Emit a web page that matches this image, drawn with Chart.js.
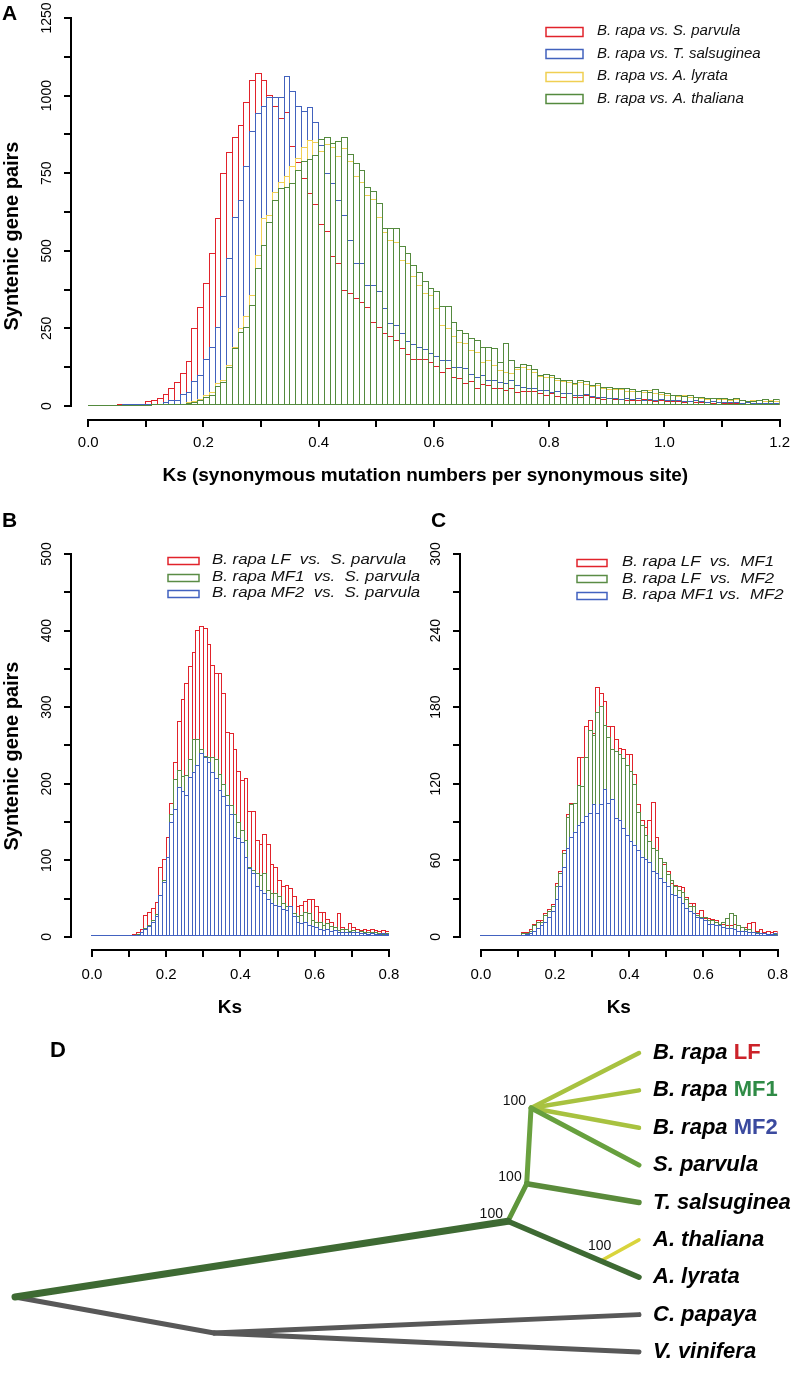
<!DOCTYPE html>
<html>
<head>
<meta charset="utf-8">
<title>Ks distributions of syntenic gene pairs</title>
<script src="https://cdn.jsdelivr.net/npm/chart.js@4.4.1/dist/chart.umd.min.js"></script>
<style>
  body { margin: 0; background: #fff; }
  #page { position: relative; width: 797px; height: 1378px; overflow: hidden; background: #fff; }
  #page canvas { position: absolute; }
</style>
</head>
<body>
<div id="page">
  <canvas id="chartA" width="797" height="500" style="left:0px;top:0px"></canvas>
  <canvas id="chartB" width="430" height="520" style="left:0px;top:500px"></canvas>
  <canvas id="chartC" width="397" height="520" style="left:400px;top:500px"></canvas>
  <canvas id="chartD" width="797" height="358" style="left:0px;top:1020px"></canvas>
</div>
<script>
Chart.defaults.font.family = '"Liberation Sans", Arial, Helvetica, sans-serif';
Chart.defaults.color = '#000';

// histogram bins are 0.01 Ks wide, starting at 0
const binWidth = 0.01;

// panel A: B. rapa vs. four crucifers, Ks 0 - 1.2
const aParvula = [
  0,0,0,0,0,1,2,3,4,8,
  16,19,25,38,57,78,105,145,250,320,
  396,492,605,750,817,868,906,981,1051,1073,
  1049,1003,967,928,947,838,785,734,686,651,
  587,564,482,462,374,365,347,334,320,272,
  256,234,224,213,186,167,152,150,152,143,
  129,109,121,95,91,73,81,59,70,68,
  59,59,52,57,46,49,49,49,43,35,
  41,33,30,41,30,30,35,30,25,23,
  25,22,24,20,21,19,22,18,17,20,
  16,15,17,14,15,13,12,14,11,12,
  10,11,9,10,8,9,8,10,7,8
];
const aSalsuginea = [
  0,0,0,0,0,0,1,1,2,3,
  5,6,8,14,21,21,38,45,80,100,
  152,191,256,356,476,610,664,772,887,944,
  967,997,997,997,1062,1014,965,949,963,914,
  842,750,720,664,616,535,460,460,390,390,
  369,315,267,261,236,211,199,190,183,170,
  160,148,148,127,127,124,103,95,100,84,
  84,78,73,84,68,62,57,57,52,52,
  46,49,43,41,35,35,38,33,30,30,
  25,27,24,26,22,25,21,23,20,22,
  19,18,20,17,16,18,15,14,16,13,
  14,12,13,11,12,10,11,10,9,10
];
const aLyrata = [
  0,0,0,0,0,0,0,0,0,0,
  0,1,1,2,3,5,8,12,17,24,
  35,45,75,84,132,191,250,290,358,487,
  605,616,691,723,740,772,800,836,858,850,
  820,845,836,804,831,790,740,723,680,666,
  610,560,535,530,470,460,420,390,363,358,
  315,261,250,224,207,202,181,175,143,148,
  132,116,111,105,120,126,118,110,96,95,
  92,85,80,78,70,78,72,66,68,58,
  56,54,55,50,48,50,45,52,42,40,
  36,34,32,34,28,29,26,24,26,24,
  24,20,22,18,17,18,20,15,19,16
];
const aThaliana = [
  0,0,0,0,0,0,0,0,0,0,
  0,1,1,2,3,5,7,10,14,20,
  30,35,64,78,127,186,240,256,326,444,
  519,594,664,702,707,718,761,790,795,809,
  860,868,847,854,868,812,782,761,705,693,
  653,573,573,573,514,492,455,433,403,379,
  371,322,322,272,245,236,218,213,191,191,
  188,143,202,148,127,135,132,118,100,103,
  100,89,84,84,73,84,81,68,73,62,
  60,57,57,57,54,49,52,46,55,46,
  41,35,35,33,35,30,30,27,25,25,
  27,23,27,19,17,16,19,23,16,23
];

// panel B: the three B. rapa subgenomes vs. S. parvula, Ks 0 - 0.8
const bLF = [
  0,0,0,0,0,1,1,1,2,2,
  3,4,6,10,29,32,38,46,92,102,
  131,175,228,282,311,331,354,372,401,406,
  404,383,355,344,345,319,268,266,246,217,
  205,207,164,164,127,122,134,121,95,92,
  75,67,68,64,53,40,42,47,49,49,
  40,32,33,24,19,13,31,13,11,18,
  13,10,9,10,9,10,9,8,9,8
];
const bMF1 = [
  0,0,0,0,0,0,0,1,1,1,
  2,3,4,7,12,16,22,30,55,75,
  105,160,206,218,210,211,233,258,259,245,
  236,235,235,233,213,200,185,172,161,150,
  140,127,92,87,83,81,83,61,57,57,
  53,44,40,40,31,27,29,33,31,22,
  20,20,16,18,14,13,9,11,10,8,
  9,7,8,7,6,7,6,5,4,5
];
const bMF2 = [
  0,0,0,0,0,0,0,0,1,1,
  1,2,3,6,10,14,20,28,55,72,
  105,150,167,196,190,186,209,215,225,240,
  235,229,216,207,192,184,172,160,131,129,
  124,105,90,83,66,61,57,50,44,42,
  40,37,35,40,27,20,18,19,16,14,
  13,11,9,10,8,9,7,7,7,6,
  6,6,5,5,4,5,4,4,5,4
];

// panel C: subgenomes against each other, Ks 0 - 0.8
const cLFvsMF1 = [
  0,0,0,0,0,0,0,0,0,1,
  1,4,4,6,10,13,13,19,22,26,
  42,52,68,96,105,105,141,141,165,170,
  160,196,191,185,165,165,155,148,147,143,
  143,128,104,92,86,92,106,78,62,57,
  52,42,41,40,39,31,27,27,19,21,
  15,15,14,13,10,10,9,9,10,9,
  8,8,11,12,5,6,4,5,4,5
];
const cLFvsMF2 = [
  0,0,0,0,0,0,0,0,0,0,
  1,3,3,5,9,12,12,17,20,24,
  40,50,66,94,104,105,119,118,141,162,
  158,176,181,166,157,147,146,143,140,135,
  130,120,98,88,80,75,70,68,62,59,
  49,45,40,37,35,30,24,24,17,16,
  16,13,13,12,10,12,15,19,17,9,
  8,6,6,4,4,3,3,2,2,2
];
const cMF1vsMF2 = [
  0,0,0,0,0,0,0,0,0,0,
  0,1,2,3,5,7,9,12,16,20,
  30,40,55,70,78,82,88,90,95,97,
  104,97,104,116,105,108,93,92,85,80,
  75,72,68,63,61,59,52,50,46,43,
  40,34,33,31,27,23,20,19,16,15,
  13,10,10,9,9,8,7,7,6,5,
  5,5,4,4,3,3,3,2,2,3
];

const aLabels = ['B. rapa vs. S. parvula', 'B. rapa vs. T. salsuginea', 'B. rapa vs. A. lyrata', 'B. rapa vs. A. thaliana'];
const bLabels = ['B. rapa LF  vs.  S. parvula', 'B. rapa MF1  vs.  S. parvula', 'B. rapa MF2  vs.  S. parvula'];
const cLabels = ['B. rapa LF  vs.  MF1', 'B. rapa LF  vs.  MF2', 'B. rapa MF1 vs.  MF2'];

const aXTicks = [0, 0.1, 0.2, 0.3, 0.4, 0.5, 0.6, 0.7, 0.8, 0.9, 1.0, 1.1, 1.2];
const aYTicks = [0, 125, 250, 375, 500, 625, 750, 875, 1000, 1125, 1250];
const bcXTicks = [0, 0.1, 0.2, 0.3, 0.4, 0.5, 0.6, 0.7, 0.8];
const bYTicks = [0, 50, 100, 150, 200, 250, 300, 350, 400, 450, 500];
const cYTicks = [0, 30, 60, 90, 120, 150, 180, 210, 240, 270, 300];

// panel D: tree. distance from root (0..1) and row of each node (tips 0..8)
const taxaName = ['B. rapa', 'B. rapa', 'B. rapa', 'S. parvula', 'T. salsuginea', 'A. thaliana', 'A. lyrata', 'C. papaya', 'V. vinifera'];
const taxaTag = ['LF', 'MF1', 'MF2', '', '', '', '', '', ''];
const nodeNames = ['LF', 'MF1', 'MF2', 'Spar', 'Tsal', 'Atha', 'Alyr', 'Cpap', 'Vvin', 'root', 'brass', 'n2', 'n3', 'out', 'thalJ'];
const nodeDist = [1, 1, 1, 1, 1, 1, 1, 1, 1, 0, 0.79, 0.82, 0.827, 0.319, 0.94];
const nodeRow = [0, 1, 2, 3, 4, 5, 6, 7, 8, 6.53, 4.5, 3.5, 1.47, 7.49, 5.55];
const branchFrom = ['root', 'brass', 'thalJ', 'brass', 'n2', 'n2', 'n3', 'n3', 'n3', 'n3', 'root', 'out', 'out'];
const branchTo = ['brass', 'Alyr', 'Atha', 'n2', 'Tsal', 'n3', 'Spar', 'LF', 'MF1', 'MF2', 'out', 'Cpap', 'Vvin'];
const bootNodes = ['n3', 'n2', 'brass', 'thalJ'];
const bootValues = [100, 100, 100, 100];

// styles
const branchColors = ['#3e6a33', '#3e6a33', '#d9d43c', '#5f963b', '#5a8b3b', '#6aa13f', '#67a03e', '#a8c240', '#a8c240', '#a8c240', '#585858', '#585858', '#585858'];
const branchWidths = [7, 5.5, 3.5, 5, 5.5, 5, 5, 4.5, 4.5, 4.5, 5, 5, 5];
const tagColors = { LF: '#cc2229', MF1: '#2f8b46', MF2: '#3b4a9f' };
const colA = ['#e1232b', '#4262bd', '#f0cf52', '#548a3e'];
const colBC = ['#e1232b', '#5a8c45', '#4262c0'];

// snap bar edges to whole pixels so stacked outlines stay crisp (like R's hist)
const crispBars = {
  id: 'crispBars',
  beforeDatasetsDraw(chart) {
    chart.getSortedVisibleDatasetMetas().forEach(meta => {
      meta.data.forEach(el => {
        const l = Math.round(el.x - el.width / 2);
        const r = Math.round(el.x + el.width / 2);
        const b = Math.round(el.base);
        let t = Math.round(el.y);
        if (b - t < 1) t = b - 1;
        el.x = (l + r) / 2;
        el.width = r - l;
        el.y = t;
        el.base = b;
      });
    });
  }
};

// base-R look: axis lines only over the tick range, panel letter, y title, boxed legend
const rPanel = {
  id: 'rPanel',
  afterDraw(chart, args, o) {
    const ctx = chart.ctx;
    const xs = chart.scales.x, ys = chart.scales.y, area = chart.chartArea;
    const xt = xs.ticks, yt = ys.ticks;
    ctx.save();
    ctx.strokeStyle = '#000';
    ctx.lineWidth = 2;
    ctx.beginPath();
    const yb = Math.round(area.bottom);
    ctx.moveTo(Math.round(xs.getPixelForValue(xt[0].value)) - 1, yb);
    ctx.lineTo(Math.round(xs.getPixelForValue(xt[xt.length - 1].value)) + 1, yb);
    const xl = Math.round(area.left);
    ctx.moveTo(xl, Math.round(ys.getPixelForValue(yt[0].value)) + 1);
    ctx.lineTo(xl, Math.round(ys.getPixelForValue(yt[yt.length - 1].value)) - 1);
    ctx.stroke();

    ctx.fillStyle = '#000';
    ctx.font = 'bold 21px "Liberation Sans", Arial, sans-serif';
    ctx.textAlign = 'left';
    ctx.textBaseline = 'middle';
    ctx.fillText(o.letter.text, o.letter.x, o.letter.y);

    if (o.yTitle) {
      ctx.save();
      ctx.translate(o.yTitle.x, o.yTitle.y);
      ctx.rotate(-Math.PI / 2);
      ctx.textAlign = 'center';
      ctx.font = 'bold 20px "Liberation Sans", Arial, sans-serif';
      ctx.fillText(o.yTitle.text, 0, 0);
      ctx.restore();
    }

    const lg = o.legend;
    chart.data.datasets.forEach((ds, k) => {
      const y = lg.y0 + k * lg.dy;
      ctx.strokeStyle = ds.borderColor;
      ctx.lineWidth = 1.5;
      ctx.strokeRect(lg.boxX, Math.round(y - lg.boxH / 2) + 0.5, lg.boxW, lg.boxH);
      ctx.save();
      ctx.translate(lg.textX, y);
      ctx.scale(lg.stretch, 1);
      ctx.fillStyle = '#111';
      ctx.font = 'italic ' + lg.size + 'px "Liberation Sans", Arial, sans-serif';
      ctx.textAlign = 'left';
      ctx.textBaseline = 'middle';
      ctx.fillText(ds.label, 0, 0);
      ctx.restore();
    });
    ctx.restore();
  }
};

function histogram(id, series, labels, colors, opt) {
  const datasets = series.map((values, k) => ({
    label: labels[k],
    data: values.map((v, i) => ({ x: (i + 0.5) * binWidth, y: v })),
    borderColor: colors[k],
    backgroundColor: 'rgba(255,255,255,0)',
    borderWidth: 1,
    borderSkipped: false,
    inflateAmount: 0,
    grouped: false,
    categoryPercentage: 1,
    barPercentage: opt.barPct,
    minBarLength: 1,
    order: series.length - k
  }));
  const tickGrid = { offset: false, drawOnChartArea: false, drawTicks: true, tickLength: 7, color: '#000', lineWidth: 2 };
  return new Chart(document.getElementById(id), {
    type: 'bar',
    data: { datasets: datasets },
    options: {
      responsive: false,
      animation: false,
      layout: { padding: opt.padding },
      plugins: { legend: { display: false }, tooltip: { enabled: false }, rPanel: opt.decor },
      scales: {
        x: {
          type: 'linear',
          min: opt.xMin,
          max: opt.xTicks[opt.xTicks.length - 1],
          offset: false,
          grid: tickGrid,
          border: { display: false },
          afterBuildTicks: s => { s.ticks = opt.xTicks.map(v => ({ value: v })); },
          afterFit: s => { s.height = opt.xHeight; },
          ticks: {
            autoSkip: false, maxRotation: 0, minRotation: 0, padding: opt.xPad,
            font: { size: 15 },
            callback: (v, i) => i % 2 === 0 ? Number(v).toFixed(1) : ''
          },
          title: { display: true, text: opt.xTitle, font: { size: 19, weight: 'bold' }, padding: { top: 0, bottom: opt.xTitlePad } }
        },
        y: {
          type: 'linear',
          min: opt.yMin,
          max: opt.yTicks[opt.yTicks.length - 1],
          grid: tickGrid,
          border: { display: false },
          afterBuildTicks: s => { s.ticks = opt.yTicks.map(v => ({ value: v })); },
          afterFit: s => { s.width = opt.yWidth; },
          ticks: {
            autoSkip: false, minRotation: 90, maxRotation: 90, crossAlign: 'center', padding: opt.yPad,
            font: { size: 14 },
            callback: (v, i) => i % 2 === 0 ? String(v) : ''
          }
        }
      }
    },
    plugins: [crispBars, rPanel]
  });
}

histogram('chartA', [aParvula, aSalsuginea, aLyrata, aThaliana], aLabels, colA, {
  barPct: 1.172, padding: { left: 0, top: 18, right: 11, bottom: 0 },
  xMin: -0.03, xTicks: aXTicks, xHeight: 80, xPad: 7,
  xTitle: 'Ks (synonymous mutation numbers per synonymous site)', xTitlePad: 13,
  yMin: -45, yTicks: aYTicks, yWidth: 71, yPad: 1,
  decor: {
    letter: { text: 'A', x: 2, y: 14 },
    yTitle: { text: 'Syntenic gene pairs', x: 12, y: 236 },
    legend: { boxX: 546, boxW: 37, boxH: 9, y0: 31, dy: 22.6, textX: 597, size: 15, stretch: 1 }
  }
});

histogram('chartB', [bLF, bMF1, bMF2], bLabels, colBC, {
  barPct: 1.27, padding: { left: 0, top: 54, right: 41, bottom: 0 },
  xMin: -0.0565, xTicks: bcXTicks, xHeight: 70, xPad: 9,
  xTitle: 'Ks', xTitlePad: 1,
  yMin: -17, yTicks: bYTicks, yWidth: 71, yPad: 5,
  decor: {
    letter: { text: 'B', x: 2, y: 21 },
    yTitle: { text: 'Syntenic gene pairs', x: 12, y: 256 },
    legend: { boxX: 168, boxW: 31, boxH: 7, y0: 60.5, dy: 16.5, textX: 212, size: 14, stretch: 1.2 }
  }
});

histogram('chartC', [cLFvsMF1, cLFvsMF2, cMF1vsMF2], cLabels, colBC, {
  barPct: 1.27, padding: { left: 0, top: 54, right: 17, bottom: 0 },
  xMin: -0.0562, xTicks: bcXTicks, xHeight: 70, xPad: 9,
  xTitle: 'Ks', xTitlePad: 1,
  yMin: -10.2, yTicks: cYTicks, yWidth: 60, yPad: 5,
  decor: {
    letter: { text: 'C', x: 31, y: 21 },
    yTitle: null,
    legend: { boxX: 177, boxW: 30, boxH: 7, y0: 62, dy: 16.7, textX: 222, size: 14, stretch: 1.2 }
  }
});

// tree: labels, bootstrap values and the panel letter
const treeText = {
  id: 'treeText',
  afterDraw(chart) {
    const ctx = chart.ctx, xs = chart.scales.x, ys = chart.scales.y;
    const px = n => xs.getPixelForValue(nodeDist[nodeNames.indexOf(n)]);
    const py = n => ys.getPixelForValue(nodeRow[nodeNames.indexOf(n)]);
    ctx.save();
    ctx.fillStyle = '#000';
    ctx.textBaseline = 'middle';
    ctx.textAlign = 'left';
    ctx.font = 'bold 22px "Liberation Sans", Arial, sans-serif';
    ctx.fillText('D', 50, 31);
    const x0 = xs.getPixelForValue(1) + 14;
    taxaName.forEach((name, i) => {
      const y = ys.getPixelForValue(i);
      ctx.font = 'italic bold 22px "Liberation Sans", Arial, sans-serif';
      ctx.fillStyle = '#000';
      const label = taxaTag[i] ? name + ' ' : name;
      ctx.fillText(label, x0, y);
      if (taxaTag[i]) {
        const w = ctx.measureText(label).width;
        ctx.font = 'bold 22px "Liberation Sans", Arial, sans-serif';
        ctx.fillStyle = tagColors[taxaTag[i]];
        ctx.fillText(taxaTag[i], x0 + w, y);
      }
    });
    ctx.font = '14px "Liberation Sans", Arial, sans-serif';
    ctx.fillStyle = '#111';
    bootNodes.forEach((n, k) => {
      if (n === 'thalJ') {
        ctx.textAlign = 'center';
        ctx.fillText(String(bootValues[k]), px(n) - 2, py(n) - 14);
      } else {
        ctx.textAlign = 'right';
        ctx.fillText(String(bootValues[k]), px(n) - 5, py(n) - 7);
      }
    });
    ctx.restore();
  }
};

new Chart(document.getElementById('chartD'), {
  type: 'scatter',
  data: {
    datasets: branchFrom.map((from, k) => {
      const a = nodeNames.indexOf(from), b = nodeNames.indexOf(branchTo[k]);
      return {
        data: [{ x: nodeDist[a], y: nodeRow[a] }, { x: nodeDist[b], y: nodeRow[b] }],
        showLine: true,
        borderColor: branchColors[k],
        borderWidth: branchWidths[k],
        borderCapStyle: 'round',
        pointRadius: 0,
        clip: false
      };
    })
  },
  options: {
    responsive: false,
    animation: false,
    layout: { padding: { left: 15, right: 158, top: 33, bottom: 26 } },
    plugins: { legend: { display: false }, tooltip: { enabled: false } },
    scales: {
      x: { type: 'linear', min: 0, max: 1, display: false },
      y: { type: 'linear', min: 0, max: 8, reverse: true, display: false }
    }
  },
  plugins: [treeText]
});
</script>
</body>
</html>
